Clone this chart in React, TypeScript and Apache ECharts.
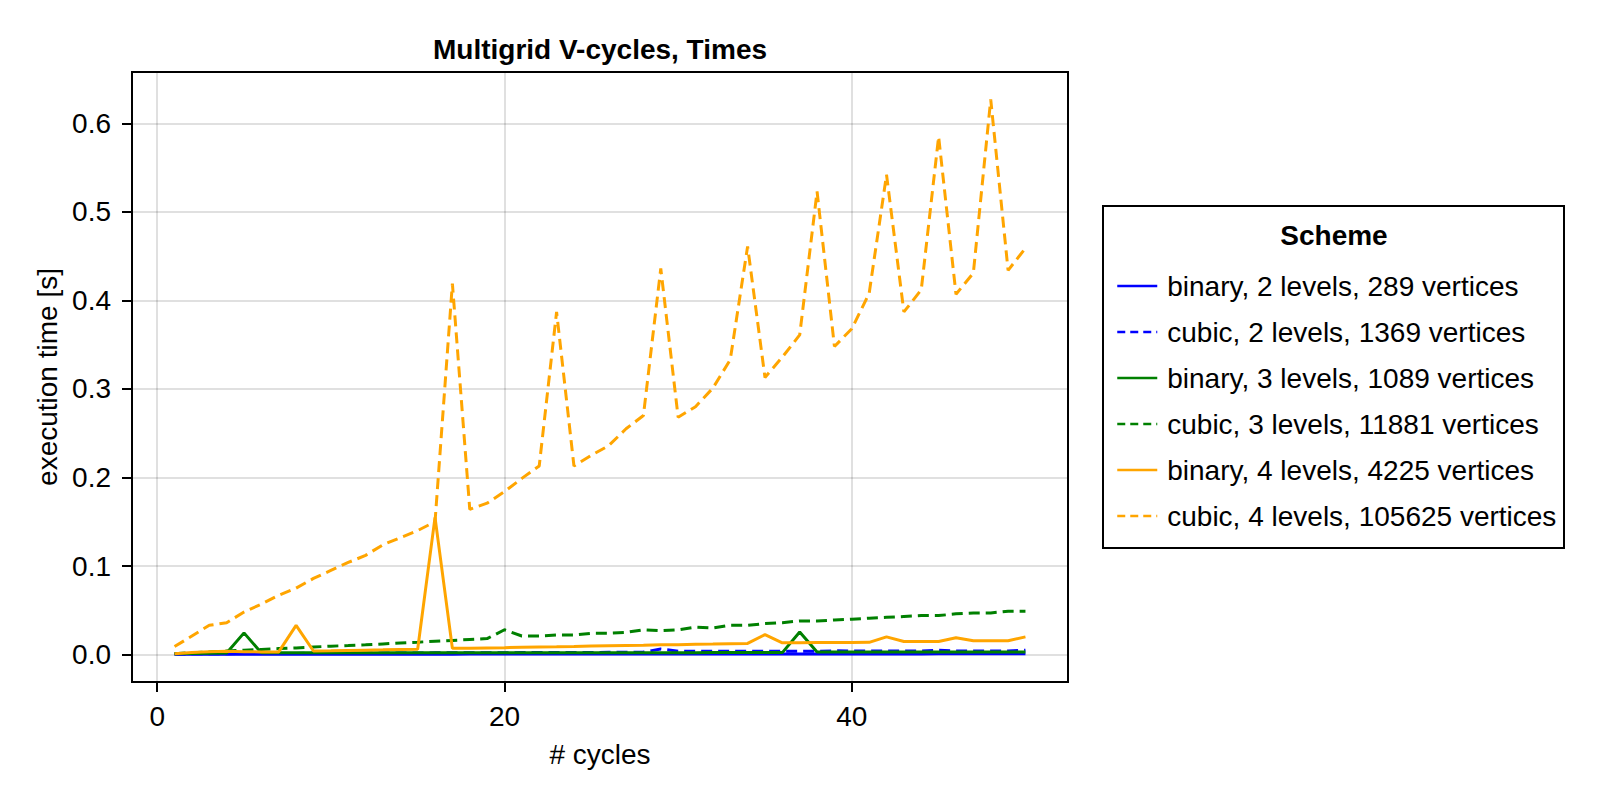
import { useEffect, useRef } from "react";
import * as echarts from "echarts";

const FONT = "'Liberation Sans', Arial, sans-serif";

const CYCLES = [
  1, 2, 3, 4, 5, 6, 7, 8, 9, 10, 11, 12, 13, 14, 15, 16, 17, 18, 19, 20, 21, 22, 23, 24, 25,
  26, 27, 28, 29, 30, 31, 32, 33, 34, 35, 36, 37, 38, 39, 40, 41, 42, 43, 44, 45, 46, 47, 48, 49, 50,
];

const BINARY_2 = [
  0.0003, 0.0003, 0.0003, 0.0003, 0.0003, 0.0003, 0.0003, 0.0003, 0.0004, 0.0004,
  0.0004, 0.0004, 0.0004, 0.0004, 0.0004, 0.0004, 0.0004, 0.0005, 0.0005, 0.0005,
  0.0005, 0.0005, 0.0005, 0.0005, 0.0005, 0.0005, 0.0006, 0.0006, 0.0006, 0.0006,
  0.0006, 0.0006, 0.0006, 0.0006, 0.0006, 0.0007, 0.0007, 0.0007, 0.0007, 0.0007,
  0.0007, 0.0007, 0.0007, 0.0007, 0.0008, 0.0008, 0.0008, 0.0008, 0.0008, 0.0008,
];

const CUBIC_2 = [
  0.0006, 0.0008, 0.0009, 0.001, 0.0011, 0.0012, 0.0012, 0.0013, 0.0014, 0.0015,
  0.0015, 0.0016, 0.0017, 0.0017, 0.0018, 0.0019, 0.0019, 0.002, 0.0021, 0.0021,
  0.0022, 0.0022, 0.0023, 0.0024, 0.0024, 0.0025, 0.0026, 0.0028, 0.0062, 0.0038,
  0.0036, 0.0036, 0.0037, 0.0037, 0.0037, 0.0036, 0.0036, 0.0037, 0.0042, 0.004,
  0.0039, 0.0039, 0.004, 0.0041, 0.005, 0.0041, 0.004, 0.0041, 0.0041, 0.0048,
];

const BINARY_3 = [
  0.0008, 0.0011, 0.0014, 0.0017, 0.0245, 0.0019, 0.0019, 0.0019, 0.0019, 0.0019,
  0.002, 0.002, 0.002, 0.002, 0.002, 0.002, 0.002, 0.002, 0.002, 0.002,
  0.002, 0.002, 0.002, 0.0021, 0.0021, 0.0021, 0.0021, 0.0021, 0.0021, 0.0021,
  0.0021, 0.0022, 0.0022, 0.0022, 0.0022, 0.0022, 0.0255, 0.003, 0.003, 0.003,
  0.003, 0.003, 0.003, 0.003, 0.003, 0.003, 0.003, 0.003, 0.003, 0.003,
];

const CUBIC_3 = [
  0.001, 0.002, 0.003, 0.004, 0.005, 0.0058, 0.0067, 0.0075, 0.0085, 0.0095,
  0.0102, 0.011, 0.012, 0.013, 0.014, 0.015, 0.016, 0.017, 0.018, 0.028,
  0.021, 0.021, 0.022, 0.022, 0.024, 0.024, 0.025, 0.028, 0.027, 0.028,
  0.031, 0.03, 0.033, 0.033, 0.035, 0.036, 0.038, 0.038, 0.039, 0.04,
  0.041, 0.042, 0.043, 0.044, 0.044, 0.046, 0.047, 0.047, 0.049, 0.049,
];

const BINARY_4 = [
  0.0008, 0.0022, 0.0032, 0.0038, 0.0033, 0.003, 0.003, 0.033, 0.004, 0.0043,
  0.0047, 0.005, 0.0053, 0.0057, 0.006, 0.155, 0.007, 0.0072, 0.0075, 0.0078,
  0.0082, 0.0085, 0.0088, 0.0092, 0.0097, 0.01, 0.0103, 0.0106, 0.011, 0.0112,
  0.0115, 0.0118, 0.0122, 0.0126, 0.0225, 0.0133, 0.0134, 0.0135, 0.0135, 0.0136,
  0.0138, 0.02, 0.0147, 0.0147, 0.0148, 0.019, 0.0155, 0.0155, 0.0156, 0.02,
];

const CUBIC_4 = [
  0.009, 0.021, 0.033, 0.036, 0.048, 0.057, 0.067, 0.075, 0.086, 0.095,
  0.104, 0.112, 0.124, 0.132, 0.14, 0.15, 0.419, 0.164, 0.171, 0.184,
  0.199, 0.213, 0.387, 0.213, 0.225, 0.236, 0.255, 0.27, 0.436, 0.268,
  0.28, 0.301, 0.333, 0.461, 0.313, 0.336, 0.361, 0.523, 0.348, 0.368,
  0.408, 0.542, 0.387, 0.412, 0.585, 0.407, 0.431, 0.627, 0.434, 0.459,
];

const X_TICKS = [0, 20, 40];
const Y_TICKS = [0, 0.1, 0.2, 0.3, 0.4, 0.5, 0.6];

const SERIES = [
  { name: "binary, 2 levels, 289 vertices", values: BINARY_2, color: "#0000ff", dashed: false },
  { name: "cubic, 2 levels, 1369 vertices", values: CUBIC_2, color: "#0000ff", dashed: true },
  { name: "binary, 3 levels, 1089 vertices", values: BINARY_3, color: "#008000", dashed: false },
  { name: "cubic, 3 levels, 11881 vertices", values: CUBIC_3, color: "#008000", dashed: true },
  { name: "binary, 4 levels, 4225 vertices", values: BINARY_4, color: "#ffa500", dashed: false },
  { name: "cubic, 4 levels, 105625 vertices", values: CUBIC_4, color: "#ffa500", dashed: true },
];

const GRID_LINE = { color: "rgba(0,0,0,0.12)", width: 2 };
const BLACK_LINE = { color: "#000", width: 2 };

export default function App() {
  const chartRef = useRef<HTMLDivElement>(null);

  useEffect(() => {
    if (!chartRef.current) return;
    const chart = echarts.init(chartRef.current, null, { renderer: "svg" });

    chart.setOption({
      animation: false,
      backgroundColor: "#fff",
      textStyle: { fontFamily: FONT },
      grid: {
        left: 132,
        top: 72,
        right: 532,
        bottom: 118,
        show: true,
        borderColor: "#000",
        borderWidth: 2,
      },
      xAxis: {
        type: "value",
        min: -1.45,
        max: 52.45,
        name: "# cycles",
        nameLocation: "middle",
        nameGap: 58,
        nameTextStyle: { fontSize: 28, color: "#000", fontFamily: FONT },
        axisLine: { show: true, onZero: false, lineStyle: BLACK_LINE },
        axisTick: { show: true, length: 10, lineStyle: BLACK_LINE, customValues: X_TICKS },
        axisLabel: {
          fontSize: 28,
          color: "#000",
          fontFamily: FONT,
          margin: 20,
          customValues: X_TICKS,
        },
        splitLine: { show: true, lineStyle: GRID_LINE },
      },
      yAxis: {
        type: "value",
        min: -0.031,
        max: 0.658,
        name: "execution time [s]",
        nameLocation: "middle",
        nameGap: 70,
        nameTextStyle: { fontSize: 28, color: "#000", fontFamily: FONT },
        axisLine: { show: true, onZero: false, lineStyle: BLACK_LINE },
        axisTick: { show: true, length: 10, lineStyle: BLACK_LINE, customValues: Y_TICKS },
        axisLabel: {
          fontSize: 28,
          color: "#000",
          fontFamily: FONT,
          margin: 21,
          customValues: Y_TICKS,
          formatter: (v: number) => v.toFixed(1),
        },
        splitLine: { show: true, lineStyle: GRID_LINE },
      },
      legend: {
        orient: "vertical",
        left: 1116,
        top: 272,
        itemWidth: 40,
        itemHeight: 14,
        itemGap: 18,
        selectedMode: false,
        padding: 0,
        itemStyle: { opacity: 0 },
        textStyle: {
          fontSize: 28,
          lineHeight: 28,
          color: "#000",
          fontFamily: FONT,
          padding: [0, 0, 0, 5],
        },
        data: SERIES.map((s) => ({
          name: s.name,
          lineStyle: { width: 2.5, type: s.dashed ? [8, 5] : "solid" },
        })),
      },
      graphic: [
        {
          type: "text",
          x: 600,
          y: 49,
          style: {
            text: "Multigrid V-cycles, Times",
            font: `bold 28px ${FONT}`,
            fill: "#000",
            textAlign: "center",
            textVerticalAlign: "middle",
          },
        },
        {
          type: "rect",
          shape: { x: 1103, y: 206, width: 461, height: 342 },
          style: { fill: "transparent", stroke: "#000", lineWidth: 2 },
        },
        {
          type: "text",
          x: 1334,
          y: 235,
          style: {
            text: "Scheme",
            font: `bold 28px ${FONT}`,
            fill: "#000",
            textAlign: "center",
            textVerticalAlign: "middle",
          },
        },
      ],
      series: SERIES.map((s) => ({
        name: s.name,
        type: "line",
        symbol: "none",
        data: CYCLES.map((c, i) => [c, s.values[i]]),
        lineStyle: { color: s.color, width: 3, type: s.dashed ? [11, 6] : "solid" },
        itemStyle: { color: s.color },
      })),
    });

    return () => {
      chart.dispose();
    };
  }, []);

  return (
    <div
      ref={chartRef}
      style={{ position: "fixed", left: 0, top: 0, width: "1600px", height: "800px" }}
    />
  );
}
